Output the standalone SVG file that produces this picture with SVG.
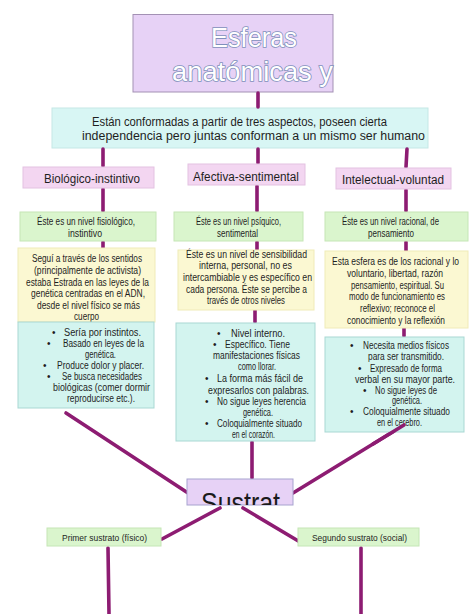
<svg xmlns="http://www.w3.org/2000/svg" width="474" height="614" viewBox="0 0 474 614">
<defs>
<style>
text{font-family:"Liberation Sans",Arial,sans-serif;fill:#1e1e1e;}
.title{font-size:27px;fill:#ffffff;stroke:#7f90bb;stroke-width:1.6px;paint-order:stroke;}
.d{font-size:12.5px;}
.h{font-size:12.5px;}
.s{font-size:10px;}
.b{font-size:10px;}
.sm{font-size:9.5px;}
.con{stroke:#8d1c72;stroke-width:3.6;fill:none;stroke-linecap:round;}
.box{stroke-width:1;}
.lav{fill:#e7d2f6;stroke:#a391b4;}
.cy{fill:#d8f6f4;stroke:#c5e8e6;}
.pk{fill:#f3d6f1;stroke:#e3c2e1;}
.gr{fill:#daf5cd;stroke:#c5e6b6;}
.ye{fill:#fbf8d2;stroke:#f0ebb8;}
.li{fill:#d3f4ef;stroke:#a9d8d3;}
</style>
<clipPath id="sclip"><rect x="187" y="479" width="106" height="26"/></clipPath>
</defs>
<rect width="474" height="614" fill="#ffffff"/>

<g id="title">
<rect class="box lav" x="133" y="14.5" width="200" height="77.5"/>
<text class="title" x="211" y="47" textLength="86" lengthAdjust="spacingAndGlyphs">Esferas</text>
<text class="title" x="172" y="81" textLength="161" lengthAdjust="spacingAndGlyphs">anatómicas y</text>
</g>

<g id="desc">
<rect class="box cy" x="52" y="108" width="376" height="40"/>
<text class="d" x="92" y="126" textLength="295" lengthAdjust="spacingAndGlyphs">Están conformadas a partir de tres aspectos, poseen cierta</text>
<text class="d" x="82" y="140" textLength="343" lengthAdjust="spacingAndGlyphs">independencia pero juntas conforman a un mismo ser humano</text>
</g>

<g id="connectors">
<line class="con" x1="258" y1="93" x2="258" y2="107"/>
<line class="con" x1="103" y1="149" x2="103" y2="166"/>
<line class="con" x1="258" y1="149" x2="258" y2="163"/>
<line class="con" x1="407" y1="149" x2="406" y2="167"/>
<line class="con" x1="103" y1="189" x2="103" y2="211"/>
<line class="con" x1="257" y1="186" x2="257" y2="211"/>
<line class="con" x1="406" y1="190" x2="406" y2="211"/>
<line class="con" x1="103" y1="242" x2="103" y2="249"/>
<line class="con" x1="257" y1="242" x2="257" y2="250"/>
<line class="con" x1="406" y1="242" x2="406" y2="251"/>
<line class="con" x1="101" y1="313" x2="101" y2="323"/>
<line class="con" x1="255" y1="310" x2="255" y2="322"/>
<line class="con" x1="404" y1="320" x2="404" y2="336"/>
<line class="con" x1="66" y1="413" x2="188" y2="493"/>
<line class="con" x1="252" y1="442" x2="252" y2="478"/>
<line class="con" x1="404" y1="425" x2="293" y2="493"/>
<line class="con" x1="220" y1="508" x2="162" y2="539"/>
<line class="con" x1="243" y1="508" x2="300" y2="542"/>
<line class="con" x1="108" y1="548" x2="109" y2="614"/>
<line class="con" x1="361" y1="548" x2="361" y2="614"/>
</g>

<g id="h1">
<rect class="box pk" x="23" y="167" width="131" height="21"/>
<text class="h" x="44" y="182.5" textLength="96" lengthAdjust="spacingAndGlyphs">Biológico-instintivo</text>
</g>
<g id="h2">
<rect class="box pk" x="188" y="164" width="117" height="21"/>
<text class="h" x="193" y="180.5" textLength="106" lengthAdjust="spacingAndGlyphs">Afectiva-sentimental</text>
</g>
<g id="h3">
<rect class="box pk" x="336" y="168" width="115" height="21"/>
<text class="h" x="342" y="184" textLength="102" lengthAdjust="spacingAndGlyphs">Intelectual-voluntad</text>
</g>

<g id="g1">
<rect class="box gr" x="20" y="212" width="136" height="29"/>
<text class="s" x="37" y="225" textLength="98" lengthAdjust="spacingAndGlyphs">Éste es un nivel fisiológico,</text>
<text class="s" x="68" y="237" textLength="34" lengthAdjust="spacingAndGlyphs">instintivo</text>
</g>
<g id="g2">
<rect class="box gr" x="174" y="212" width="129" height="29"/>
<text class="s" x="196" y="225" textLength="85" lengthAdjust="spacingAndGlyphs">Éste es un nivel psíquico,</text>
<text class="s" x="217" y="237" textLength="41" lengthAdjust="spacingAndGlyphs">sentimental</text>
</g>
<g id="g3">
<rect class="box gr" x="325" y="212" width="143" height="29"/>
<text class="s" x="342" y="225" textLength="97" lengthAdjust="spacingAndGlyphs">Éste es un nivel racional, de</text>
<text class="s" x="368" y="237" textLength="46" lengthAdjust="spacingAndGlyphs">pensamiento</text>
</g>

<g id="y1">
<rect class="box ye" x="18" y="248" width="137" height="74"/>
<text class="s" x="32" y="262" textLength="110" lengthAdjust="spacingAndGlyphs">Seguí a través de los sentidos</text>
<text class="s" x="34" y="274" textLength="107" lengthAdjust="spacingAndGlyphs">(principalmente de activista)</text>
<text class="s" x="26" y="285.5" textLength="123" lengthAdjust="spacingAndGlyphs">estaba Estrada en las leyes de la</text>
<text class="s" x="31" y="297" textLength="114" lengthAdjust="spacingAndGlyphs">genética centradas en el ADN,</text>
<text class="s" x="37" y="308.5" textLength="103" lengthAdjust="spacingAndGlyphs">desde el nivel físico se más</text>
<text class="s" x="74" y="319.5" textLength="25" lengthAdjust="spacingAndGlyphs">cuerpo</text>
</g>
<g id="y2">
<rect class="box ye" x="178" y="250" width="136" height="60"/>
<text class="s" x="186" y="257.5" textLength="121" lengthAdjust="spacingAndGlyphs">Éste es un nivel de sensibilidad</text>
<text class="s" x="199" y="269" textLength="93" lengthAdjust="spacingAndGlyphs">interna, personal, no es</text>
<text class="s" x="183" y="281" textLength="129" lengthAdjust="spacingAndGlyphs">intercambiable y es específico en</text>
<text class="s" x="186" y="292.5" textLength="121" lengthAdjust="spacingAndGlyphs">cada persona. Éste se percibe a</text>
<text class="s" x="207" y="304" textLength="78" lengthAdjust="spacingAndGlyphs">través de otros niveles</text>
</g>
<g id="y3">
<rect class="box ye" x="325" y="251" width="143" height="77"/>
<text class="s" x="332" y="265" textLength="127" lengthAdjust="spacingAndGlyphs">Esta esfera es de los racional y lo</text>
<text class="s" x="347" y="277" textLength="96" lengthAdjust="spacingAndGlyphs">voluntario, libertad,  razón</text>
<text class="s" x="351" y="288.5" textLength="93" lengthAdjust="spacingAndGlyphs">pensamiento, espiritual. Su</text>
<text class="s" x="349" y="300" textLength="96" lengthAdjust="spacingAndGlyphs">modo de funcionamiento es</text>
<text class="s" x="360" y="312" textLength="75" lengthAdjust="spacingAndGlyphs">reflexivo; reconoce el</text>
<text class="s" x="347" y="324" textLength="98" lengthAdjust="spacingAndGlyphs">conocimiento y la reflexión</text>
</g>

<g id="c1">
<rect class="box li" x="18" y="322" width="136" height="86"/>
<text class="b" x="52" y="336">•</text>
<text class="s" x="64" y="336" textLength="77" lengthAdjust="spacingAndGlyphs">Sería por instintos.</text>
<text class="b" x="47" y="347">•</text>
<text class="s" x="63" y="347" textLength="81" lengthAdjust="spacingAndGlyphs">Basado en leyes de la</text>
<text class="s" x="85" y="357.5" textLength="31" lengthAdjust="spacingAndGlyphs">genética.</text>
<text class="b" x="43" y="368.5">•</text>
<text class="s" x="57" y="368.5" textLength="87" lengthAdjust="spacingAndGlyphs">Produce dolor y placer.</text>
<text class="b" x="47" y="379.5">•</text>
<text class="s" x="62" y="379.5" textLength="80" lengthAdjust="spacingAndGlyphs">Se busca necesidades</text>
<text class="s" x="53" y="390.5" textLength="97" lengthAdjust="spacingAndGlyphs">biológicas (comer dormir</text>
<text class="s" x="67" y="402" textLength="68" lengthAdjust="spacingAndGlyphs">reproducirse etc.).</text>
</g>
<g id="c2">
<rect class="box li" x="176" y="323" width="139" height="118"/>
<text class="b" x="217" y="337">•</text>
<text class="s" x="231" y="337" textLength="54" lengthAdjust="spacingAndGlyphs">Nivel interno.</text>
<text class="b" x="213" y="347.5">•</text>
<text class="s" x="225" y="347.5" textLength="65" lengthAdjust="spacingAndGlyphs">Específico. Tiene</text>
<text class="s" x="213" y="358.5" textLength="87" lengthAdjust="spacingAndGlyphs">manifestaciones físicas</text>
<text class="s" x="238" y="369.5" textLength="38" lengthAdjust="spacingAndGlyphs">como llorar.</text>
<text class="b" x="205" y="382">•</text>
<text class="s" x="217" y="382" textLength="86" lengthAdjust="spacingAndGlyphs">La forma más fácil de</text>
<text class="s" x="208" y="393.5" textLength="101" lengthAdjust="spacingAndGlyphs">expresarlos con palabras.</text>
<text class="b" x="205" y="404.5">•</text>
<text class="s" x="217" y="404.5" textLength="89" lengthAdjust="spacingAndGlyphs">No sigue leyes herencia</text>
<text class="s" x="243" y="416" textLength="30" lengthAdjust="spacingAndGlyphs">genética.</text>
<text class="b" x="205" y="427">•</text>
<text class="s" x="217" y="427" textLength="85" lengthAdjust="spacingAndGlyphs">Coloquialmente situado</text>
<text class="s" x="232" y="437.5" textLength="43" lengthAdjust="spacingAndGlyphs">en el corazón.</text>
</g>
<g id="c3">
<rect class="box li" x="325" y="337" width="139" height="95"/>
<text class="b" x="350" y="349">•</text>
<text class="s" x="363" y="349" textLength="86" lengthAdjust="spacingAndGlyphs">Necesita medios físicos</text>
<text class="s" x="368" y="360" textLength="76" lengthAdjust="spacingAndGlyphs">para ser transmitido.</text>
<text class="b" x="358" y="371.5">•</text>
<text class="s" x="370" y="371.5" textLength="72" lengthAdjust="spacingAndGlyphs">Expresado de forma</text>
<text class="s" x="355" y="382.5" textLength="100" lengthAdjust="spacingAndGlyphs">verbal en su mayor parte.</text>
<text class="b" x="363" y="393.5">•</text>
<text class="s" x="375" y="393.5" textLength="62" lengthAdjust="spacingAndGlyphs">No sigue leyes de</text>
<text class="s" x="392" y="404" textLength="30" lengthAdjust="spacingAndGlyphs">genética.</text>
<text class="b" x="350" y="415">•</text>
<text class="s" x="363" y="415" textLength="87" lengthAdjust="spacingAndGlyphs">Coloquialmente situado</text>
<text class="s" x="377" y="426" textLength="45" lengthAdjust="spacingAndGlyphs">en el cerebro.</text>
</g>
<line class="con" x1="404" y1="425" x2="373" y2="444"/>

<g id="sustrat">
<rect class="box lav" x="187" y="479" width="106" height="26" style="stroke:#a7a3cf"/>
<text clip-path="url(#sclip)" x="201" y="513" style="font-size:30px;fill:#1a1a1a" textLength="79" lengthAdjust="spacingAndGlyphs">Sustrat</text>
</g>

<g id="p1">
<rect class="box gr" x="47" y="528" width="114" height="18"/>
<text class="sm" x="62" y="540.5" textLength="85" lengthAdjust="spacingAndGlyphs">Primer sustrato (físico)</text>
</g>
<g id="p2">
<rect class="box gr" x="298" y="528" width="121" height="18"/>
<text class="sm" x="312" y="540.5" textLength="95" lengthAdjust="spacingAndGlyphs">Segundo sustrato (social)</text>
</g>
</svg>
